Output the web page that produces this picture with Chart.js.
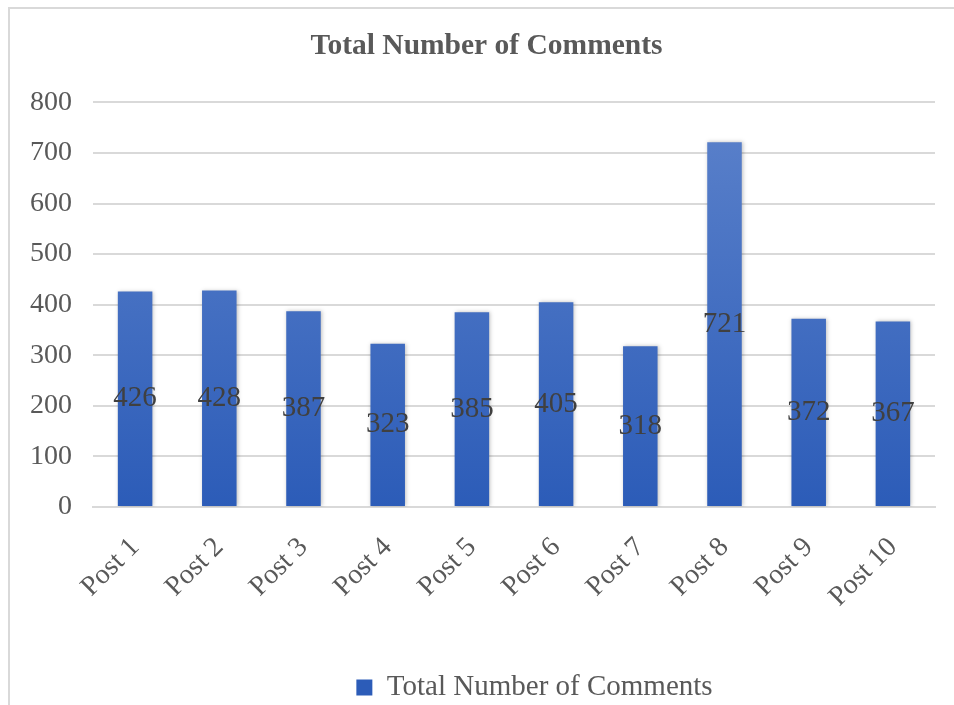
<!DOCTYPE html>
<html>
<head>
<meta charset="utf-8">
<script src="https://cdn.jsdelivr.net/npm/chart.js@4"></script>
<style>
  html, body { margin: 0; padding: 0; background: #fff; overflow: hidden; }
  #frame { position: absolute; left: 8px; top: 7px; width: 1000px; height: 760px; border-left: 2px solid #d9d9d9; border-top: 2px solid #d9d9d9; }
  #wrap { position: absolute; left: 0; top: 0; width: 954px; height: 705px; }
</style>
</head>
<body>
<div id="frame"></div>
<div id="wrap"><canvas id="commentsChart"></canvas></div>
<script>
// data
const posts = ["Post 1", "Post 2", "Post 3", "Post 4", "Post 5", "Post 6", "Post 7", "Post 8", "Post 9", "Post 10"];
const comments = [426, 428, 387, 323, 385, 405, 318, 721, 372, 367];
const yTicks = [0, 100, 200, 300, 400, 500, 600, 700, 800];

const FONT = "'Liberation Serif', 'Times New Roman', serif";
const TEXT = "#595959";

const ctx = document.getElementById("commentsChart").getContext("2d");

function barGradient(context) {
  const chart = context.chart;
  const area = chart.chartArea;
  if (!area) return "#3f6cc4";
  const g = chart.ctx.createLinearGradient(0, area.top, 0, area.bottom);
  g.addColorStop(0, "#5c82cb");
  g.addColorStop(1, "#2c5cb8");
  return g;
}

// value labels in the middle of each bar
const centerLabels = {
  id: "centerLabels",
  afterDatasetsDraw(chart) {
    const c = chart.ctx;
    const meta = chart.getDatasetMeta(0);
    c.save();
    c.font = "29px " + FONT;
    c.fillStyle = "#404040";
    c.textAlign = "center";
    c.textBaseline = "middle";
    meta.data.forEach((bar, i) => {
      const mid = (bar.y + bar.base) / 2;
      c.fillText(String(comments[i]), bar.x, mid);
    });
    c.restore();
  }
};

// soft shadow behind bars
const barShadow = {
  id: "barShadow",
  beforeDatasetsDraw(chart) {
    chart.ctx.save();
    chart.ctx.shadowColor = "rgba(0,0,0,0.25)";
    chart.ctx.shadowBlur = 4;
    chart.ctx.shadowOffsetX = 1;
    chart.ctx.shadowOffsetY = 0;
  },
  afterDatasetsDraw(chart) {
    chart.ctx.restore();
  }
};

// nudge title and legend like the original (not centred on the canvas)
const nudgeBoxes = {
  id: "nudgeBoxes",
  afterLayout(chart) {
    const t = chart.titleBlock;
    if (t) { t.left += 19; t.right += 19; }
    const l = chart.legend;
    if (l) {
      l.left += 67; l.right += 67;
      l.top += 9; l.bottom += 9;
      (l.legendHitBoxes || []).forEach(b => { b.left += 67; b.top += 9; });
    }
  }
};

new Chart(ctx, {
  type: "bar",
  data: {
    labels: posts,
    datasets: [
      {
        label: "Total Number of Comments",
        data: comments,
        backgroundColor: barGradient,
        borderWidth: 0,
        categoryPercentage: 1,
        barPercentage: 0.41
      }
    ]
  },
  options: {
    responsive: true,
    maintainAspectRatio: false,
    animation: false,
    layout: { padding: { left: 0, right: 19, top: 24, bottom: 2 } },
    plugins: {
      title: {
        display: true,
        text: "Total Number of Comments",
        color: TEXT,
        font: { family: FONT, size: 29.5, weight: "bold" },
        padding: { top: 5, bottom: 38 }
      },
      legend: {
        display: true,
        position: "bottom",
        labels: {
          color: TEXT,
          font: { family: FONT, size: 29 },
          boxWidth: 16,
          boxHeight: 16,
          padding: 10
        }
      },
      tooltip: { enabled: false }
    },
    scales: {
      x: {
        grid: { display: false },
        border: { color: "#d9d9d9", width: 2 },
        ticks: {
          color: TEXT,
          font: { family: FONT, size: 28 },
          minRotation: 45,
          maxRotation: 45,
          padding: 16
        },
        afterFit(axis) { axis.height = 147; }
      },
      y: {
        min: 0,
        max: 800,
        afterBuildTicks(axis) {
          axis.ticks = yTicks.map(v => ({ value: v }));
        },
        afterFit(axis) { axis.width = 93; },
        grid: { color: "#d9d9d9", lineWidth: 2, drawTicks: false },
        border: { display: false },
        ticks: {
          color: TEXT,
          font: { family: FONT, size: 28 },
          padding: 21
        }
      }
    }
  },
  plugins: [barShadow, centerLabels, nudgeBoxes]
});
</script>
</body>
</html>
